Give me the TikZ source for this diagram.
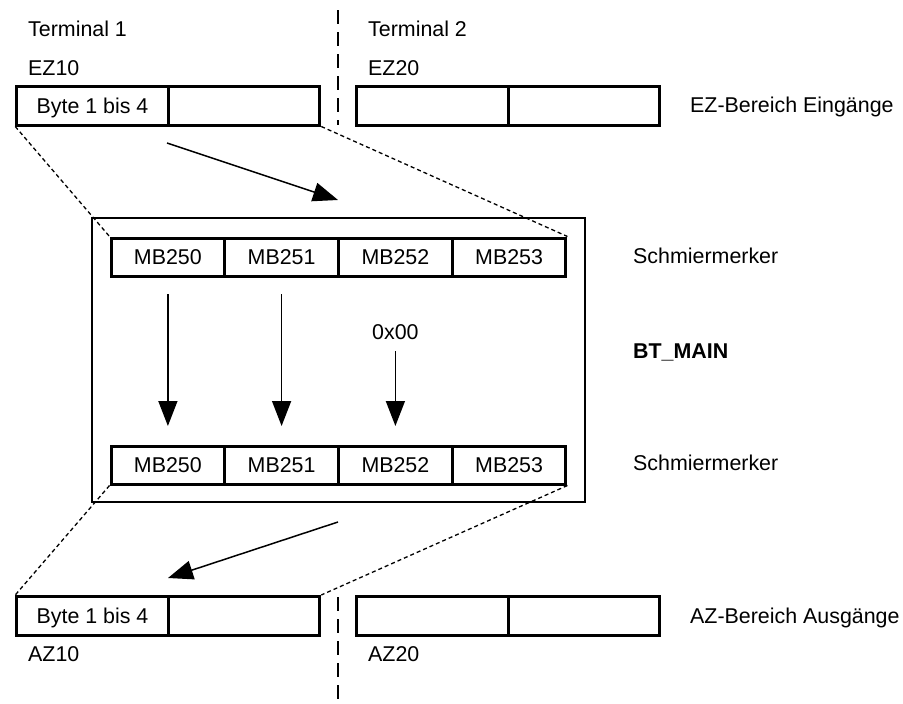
\documentclass[tikz,border=0pt]{standalone}
\usepackage{fontspec}
\setmainfont{Liberation Sans}
\usetikzlibrary{arrows.meta}

\tikzset{
  cell/.style={draw, line width=3pt, minimum width=151.5pt, minimum height=39pt,
    inner sep=0pt, text height=15.4pt, text depth=0pt},
  mbcell/.style={cell, minimum width=113.75pt, minimum height=38pt},
  frame/.style={draw, line width=1.7pt, minimum width=493pt, minimum height=284pt, inner sep=0pt},
  lbl/.style={anchor=west, inner sep=0pt, text height=15.4pt, text depth=0pt},
  zoomline/.style={dash pattern=on 4pt off 3pt, line width=1.3pt},
  sepline/.style={dash pattern=on 14pt off 8pt, line width=1.3pt},
  flow/.style={line width=1.5pt, -{Triangle[length=25pt,width=19pt]}}
}

\begin{document}
\begin{tikzpicture}[x=1pt, y=-1pt, every node/.style={font=\fontsize{21.4pt}{25pt}\selectfont}]
    \useasboundingbox (0,0) rectangle (903,704);

    % terminal separator
    \coordinate (sepa) at (338,10);
    \coordinate (sepb) at (338,125);
    \coordinate (sepc) at (338,597);
    \coordinate (sepd) at (338,704);
    \draw[sepline] (sepa) -- (sepb);
    \draw[sepline] (sepc) -- (sepd);

    % EZ area
    \node[lbl] (term1) at (28,28.3) {Terminal 1};
    \node[lbl] (term2) at (368,28.3) {Terminal 2};
    \node[lbl] (ez10) at (28,67.5) {EZ10};
    \node[lbl] (ez20) at (368,67.5) {EZ20};
    \node[cell] (e1) at (92.5,105.5) {Byte 1 bis 4};
    \node[cell] (e2) at (244,105.5) {};
    \node[cell] (f1) at (432.5,105.5) {};
    \node[cell] (f2) at (584,105.5) {};
    \node[lbl] (ezber) at (690,105) {EZ-Bereich Eingänge};

    % BT_MAIN
    \node[frame] (bt) at (338.5,360) {};
    \node[mbcell] (t1) at (167.9,257) {MB250};
    \node[mbcell] (t2) at (281.6,257) {MB251};
    \node[mbcell] (t3) at (395.4,257) {MB252};
    \node[mbcell] (t4) at (509.1,257) {MB253};
    \node[mbcell] (b1) at (167.9,465) {MB250};
    \node[mbcell] (b2) at (281.6,465) {MB251};
    \node[mbcell] (b3) at (395.4,465) {MB252};
    \node[mbcell] (b4) at (509.1,465) {MB253};
    \node (zero) at (395.4,332) [inner sep=0pt, text height=15.4pt, text depth=0pt] {0x00};
    \node[lbl] (sm1) at (633,256) {Schmiermerker};
    \node[lbl] (btmain) at (633,351) {\bfseries BT\_MAIN};
    \node[lbl] (sm2) at (633,463) {Schmiermerker};

    \draw[flow, shorten <=16.5pt, shorten >=18.5pt] (t1) -- (b1);
    \draw[flow, shorten <=16.5pt, shorten >=18.5pt] (t2) -- (b2);
    \draw[flow, shorten <=11.3pt, shorten >=18.5pt] (zero) -- (b3);

    % AZ area
    \node[cell] (a1) at (92.5,616) {Byte 1 bis 4};
    \node[cell] (a2) at (244,616) {};
    \node[cell] (g1) at (432.5,616) {};
    \node[cell] (g2) at (584,616) {};
    \node[lbl] (azber) at (690,616) {AZ-Bereich Ausgänge};
    \node[lbl] (az10) at (28,654) {AZ10};
    \node[lbl] (az20) at (368,654) {AZ20};

    % zoom lines
    \draw[zoomline] (e1.south west) -- (t1.north west);
    \draw[zoomline] (e2.south east) -- (t4.north east);
    \draw[zoomline] (b1.south west) -- (a1.north west);
    \draw[zoomline] (b4.south east) -- (a2.north east);

    % copy direction
    \coordinate (ins) at (167,143);
    \coordinate (ine) at (338,200);
    \coordinate (outs) at (338,522);
    \coordinate (oute) at (168,578);
    \draw[flow] (ins) -- (ine);
    \draw[flow] (outs) -- (oute);
\end{tikzpicture}
\end{document}
